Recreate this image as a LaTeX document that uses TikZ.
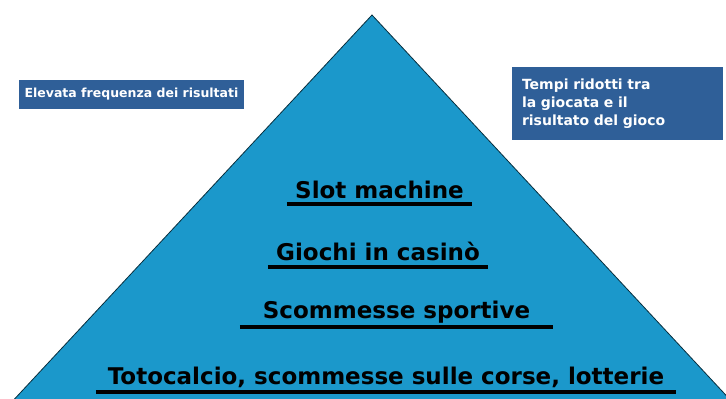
\documentclass[tikz,border=0pt]{standalone}
\usepackage{fontspec}
\setmainfont{DejaVu Sans}
\usetikzlibrary{positioning}
\definecolor{pyrblue}{RGB}{27,152,203}
\definecolor{boxblue}{RGB}{47,95,152}
\tikzset{infobox/.style={fill=boxblue, text=white, inner sep=0pt, font=\bfseries\fontsize{12.5}{15}\selectfont}}
\tikzset{level/.style={anchor=base, inner sep=0pt, font=\bfseries\fontsize{23}{27}\selectfont}}
\tikzset{uline/.style={draw, line width=4pt}}

\begin{document}
\begin{tikzpicture}[x=1pt, y=-1pt]
		\useasboundingbox (0,0) rectangle (726,399);
		\clip (0,0) rectangle (726,399);

		% pyramid
		\draw[fill=pyrblue, draw=black!70!pyrblue, line width=0.8pt] (372,15) -- (749,420) -- (-5,420) -- cycle;

		\node[infobox, minimum width=225pt, minimum height=29pt] (freq) at (131.5,94.5){Elevata frequenza dei risultati};
		\node[infobox, minimum height=73pt, text width=191pt, inner xsep=10pt, align=left, font=\bfseries\fontsize{14}{18}\selectfont] (tempi) at (617.5,103.5){Tempi ridotti tra\\la giocata e il\\risultato del gioco};

		\node[level, minimum width=185pt] (slot) at (379.5,198){Slot machine};
		\node[level, minimum width=220pt] (giochi) at (378,260){Giochi in casinò};
		\node[level, minimum width=313pt] (scommesse) at (396.5,318){Scommesse sportive};
		\node[level, minimum width=580pt] (totocalcio) at (386,384){Totocalcio, scommesse sulle corse, lotterie};

		\draw[uline] ([yshift=-6pt]slot.base west) -- ([yshift=-6pt]slot.base east);
		\draw[uline] ([yshift=-7pt]giochi.base west) -- ([yshift=-7pt]giochi.base east);
		\draw[uline] ([yshift=-9pt]scommesse.base west) -- ([yshift=-9pt]scommesse.base east);
		\draw[uline] ([yshift=-8pt]totocalcio.base west) -- ([yshift=-8pt]totocalcio.base east);
	\end{tikzpicture}
\end{document}
